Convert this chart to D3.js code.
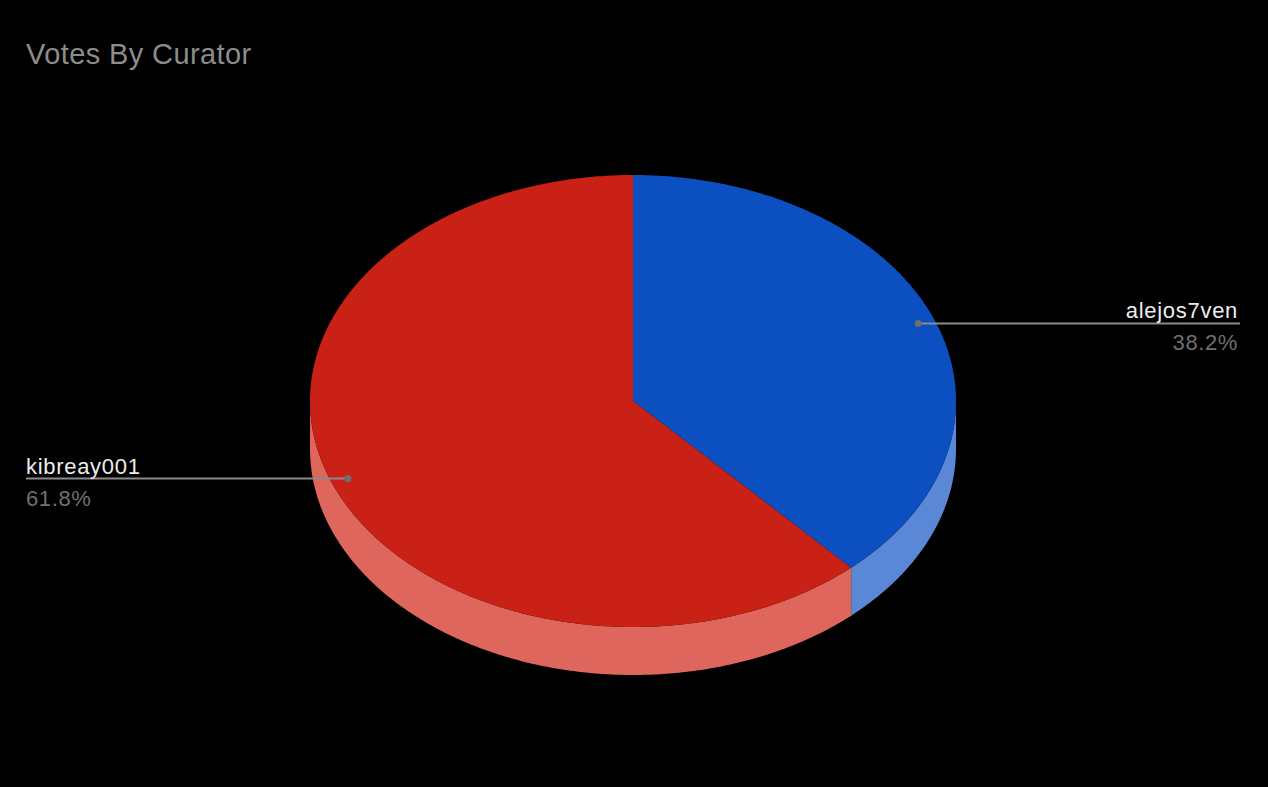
<!DOCTYPE html>
<html>
<head>
<meta charset="utf-8">
<script src="https://cdn.jsdelivr.net/npm/d3@7/dist/d3.min.js"></script>
<style>
  html, body { margin: 0; padding: 0; background: #000; }
  svg { display: block; }
</style>
</head>
<body>
<svg id="chart" width="1268" height="787"></svg>
<script>
// data
var curators = ["alejos7ven", "kibreay001"];
var votes = [38.2, 61.8];

var topColors = ["#0b4fc1", "#ca2116"];
var sideColors = ["#5a88d6", "#de665c"];

var W = 1268, H = 787;
var cx = 633, cy = 401, rx = 323, ry = 226, depth = 48;

var svg = d3.select("#chart");
svg.append("rect").attr("width", W).attr("height", H).attr("fill", "#000");

svg.append("text")
  .attr("x", 26).attr("y", 64)
  .attr("font-family", "Liberation Sans, Arial, sans-serif")
  .attr("font-size", 29)
  .attr("letter-spacing", 0.4)
  .attr("fill", "#8c8c8c")
  .text("Votes By Curator");

var pie = d3.pie().sort(null).value(function(d){ return d; });
var arcs = pie(votes);

// point on the ellipse, angle clockwise from 12 o'clock
var pt = function(a, f, dy){
  f = f === undefined ? 1 : f;
  return [cx + rx * f * Math.sin(a), cy - ry * f * Math.cos(a) + (dy || 0)];
}

var sweep = function(a0, a1, dy){
  var n = Math.max(2, Math.ceil(Math.abs(a1 - a0) / 0.01));
  var pts = [];
  for (var i = 0; i <= n; i++) pts.push(pt(a0 + (a1 - a0) * i / n, 1, dy));
  return pts;
}

var line = d3.line();

// side walls (only the front half is visible)
arcs.forEach(function(d, i){
  var s = Math.max(d.startAngle, Math.PI / 2);
  var e = Math.min(d.endAngle, Math.PI * 1.5);
  if (s >= e) return;
  var pts = sweep(s, e, 0).concat(sweep(e, s, depth));
  svg.append("path")
    .attr("d", line(pts) + "Z")
    .attr("fill", sideColors[i]);
});

// seams between walls
arcs.forEach(function(d){
  var a = d.endAngle;
  if (a > Math.PI / 2 && a < Math.PI * 1.5) {
    var p = pt(a);
    svg.append("line")
      .attr("x1", p[0]).attr("y1", p[1])
      .attr("x2", p[0]).attr("y2", p[1] + depth)
      .attr("stroke", "#8a7070").attr("stroke-width", 1);
  }
});

// top faces
arcs.forEach(function(d, i){
  var pts = [[cx, cy]].concat(sweep(d.startAngle, d.endAngle, 0));
  svg.append("path")
    .attr("d", line(pts) + "Z")
    .attr("fill", topColors[i]);
});

// labels
var font = "Liberation Sans, Arial, sans-serif";
arcs.forEach(function(d, i){
  var mid = (d.startAngle + d.endAngle) / 2;
  var p = pt(mid, 0.947);
  var right = Math.sin(mid) > 0;
  var lx = right ? 1240 : 26;
  var g = svg.append("g");
  g.append("line")
    .attr("x1", p[0]).attr("y1", p[1])
    .attr("x2", lx).attr("y2", p[1])
    .attr("stroke", "#8a8a8a").attr("stroke-width", 2);
  g.append("circle")
    .attr("cx", p[0]).attr("cy", p[1]).attr("r", 3.5)
    .attr("fill", "#6e6e6e");
  var tx = right ? 1238 : 26;
  var anchor = right ? "end" : "start";
  g.append("text")
    .attr("x", tx).attr("y", p[1] - 5)
    .attr("text-anchor", anchor)
    .attr("font-family", font).attr("font-size", 22)
    .attr("letter-spacing", 0.7)
    .attr("fill", "#ececec")
    .text(curators[i]);
  g.append("text")
    .attr("x", tx).attr("y", p[1] + 27)
    .attr("text-anchor", anchor)
    .attr("font-family", font).attr("font-size", 22)
    .attr("letter-spacing", 0.6)
    .attr("fill", "#6f6f6f")
    .text(d3.format(".1f")(votes[i] / d3.sum(votes) * 100) + "%");
});
</script>
</body>
</html>
